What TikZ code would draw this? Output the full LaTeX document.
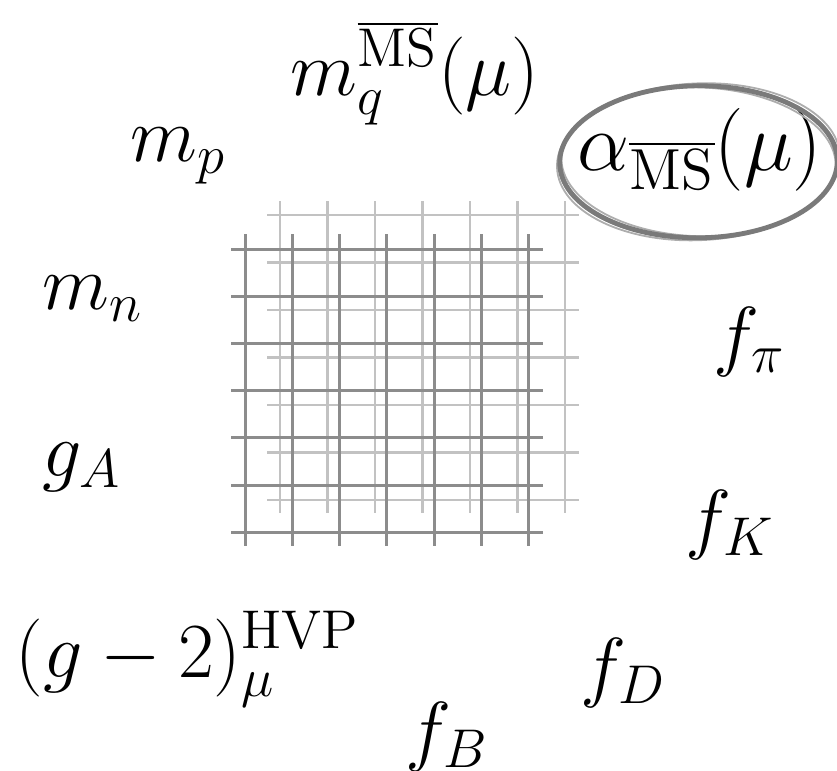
\RequirePackage{fix-cm}
\documentclass[tikz,border=0pt]{standalone}
\usetikzlibrary{calc}

\begin{document}
\begin{tikzpicture}[
    x=0.25pt, y=-0.25pt,
    lbl/.style={anchor=base west, inner sep=0pt, font=\fontsize{19.5}{24}\selectfont},
    coarse/.style={draw=black!45, line width=0.75pt},
    fine/.style={draw=black!24, line width=0.6pt},
    ring/.style={draw=black!52, line width=1.2pt},
    ringsoft/.style={draw=black!32, line width=0.45pt}
]
    \useasboundingbox (0,0) rectangle (837,771);

    % back lattice
    \foreach \i in {0,...,6} {
        \draw [fine] ({280+47.5*\i},201) -- ({280+47.5*\i},513);
        \draw [fine] (267,{215+47.5*\i}) -- (579,{215+47.5*\i});
    }
    % front lattice
    \foreach \i in {0,...,6} {
        \draw [coarse] ({245+47.3*\i},234) -- ({245+47.3*\i},546);
        \draw [coarse] (231,{249+47.2*\i}) -- (543,{249+47.2*\i});
    }

    % observables
    \node [lbl] (mq) at (290,95) {$m_q^{\overline{\mathrm{MS}}}(\mu)$};
    \node [lbl] (mp) at (130,162) {$m_p$};
    \node [lbl] (mn) at (42,310) {$m_n$};
    \node [lbl] (gA) at (42,476) {$g_A$};
    \node [lbl] (gmu) at (15,677) {$(g-2)_\mu^{\mathrm{HVP}}$};
    \node [lbl] (fB) at (405,756) {$f_B$};
    \node [lbl] (fD) at (580,692) {$f_D$};
    \node [lbl] (fK) at (685,544) {$f_K$};
    \node [lbl] (fpi) at (713,361) {$f_\pi$};
    \node [lbl, font=\fontsize{20.7}{25}\selectfont] (alpha) at (577,170) {$\alpha_{\overline{\mathrm{MS}}}(\mu)$};

    % hand-drawn ring round the coupling
    \coordinate (ringc) at ($(alpha.center)+(-1.5,12.5)$);
    \foreach \a/\rx/\ry in {2.5/35.4/19.6, 1/35.0/19.2, -2/34.3/18.6} {
        \draw [ringsoft, rotate around={\a:(ringc)}] (ringc) ellipse [x radius=\rx pt, y radius=\ry pt];
    }
    \draw [ring, rotate around={0.5:(ringc)}] (ringc) ellipse [x radius=34.7pt, y radius=19.0pt];
\end{tikzpicture}
\end{document}
